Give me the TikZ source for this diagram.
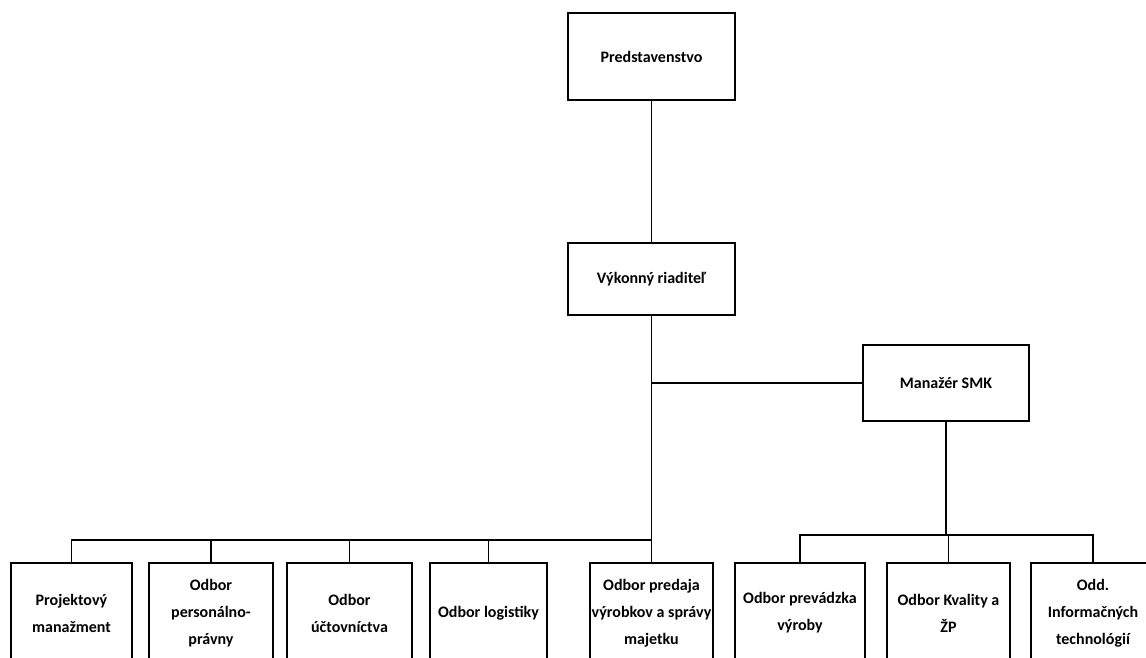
\documentclass[tikz,border=0pt]{standalone}
\usepackage{fontspec}
\setmainfont{Carlito}
\usepackage{tikz}
\usetikzlibrary{positioning,calc}

\begin{document}
\begin{tikzpicture}[
    x=1pt, y=-1pt,
    box/.style={draw, line width=1.8pt, align=center, inner sep=0pt,
                font=\fontsize{16}{27}\selectfont\bfseries},
    topbox/.style={box, minimum width=167pt},
    unit/.style={box, minimum height=100pt},
    link/.style={line width=1.8pt},
]
\useasboundingbox (0,0) rectangle (1146,658);
\clip (0,0) rectangle (1146,658);

% ── Top management ──
\node[topbox, minimum height=87pt] (pres) at (651.5,56.5) {Predstavenstvo};
\node[topbox, minimum height=72pt] (vyk) at (651.5,279) {Výkonný riaditeľ};
\node[box, minimum width=166pt, minimum height=76pt] (smk) at (946,383) {Manažér SMK};

% ── Departments ──
\node[unit, minimum width=121pt] (proj) at (71.5,613) {Projektový\\manažment};
\node[unit, minimum width=124pt] (pers) at (211,613) {Odbor\\personálno-\\právny};
\node[unit, minimum width=125pt] (uct) at (349.5,613) {Odbor\\účtovníctva};
\node[unit, minimum width=117pt] (log) at (488.5,613) {Odbor logistiky};
\node[unit, minimum width=123pt] (pred) at (651.5,613) {Odbor predaja\\výrobkov a správy\\majetku};
\node[unit, minimum width=130pt] (prev) at (800,613) {Odbor prevádzka\\výroby};
\node[unit, minimum width=123pt] (kval) at (948.5,613) {Odbor Kvality a\\ŽP};
\node[unit, minimum width=124pt] (inf) at (1093,613) {Odd.\\Informačných\\technológií};

% ── Bus lines ──
\coordinate (busL) at (0,540);
\coordinate (busR) at (0,535);

% ── Connectors ──
\draw[link] (pres) -- (vyk);
\draw[link] (vyk) -- (pred);
\draw[link] (vyk.south |- smk.west) -- (smk.west);
\draw[link] (proj.north) -- (proj.north |- busL) -- (pred.north |- busL);
\foreach \n in {pers,uct,log}
    \draw[link] (\n.north) -- (\n.north |- busL);
\draw[link] (smk) -- (smk.south |- busR);
\draw[link] (prev.north) -- (prev.north |- busR) -- (inf.north |- busR) -- (inf.north);
\draw[link] (kval.north) -- (kval.north |- busR);

\end{tikzpicture}
\end{document}
